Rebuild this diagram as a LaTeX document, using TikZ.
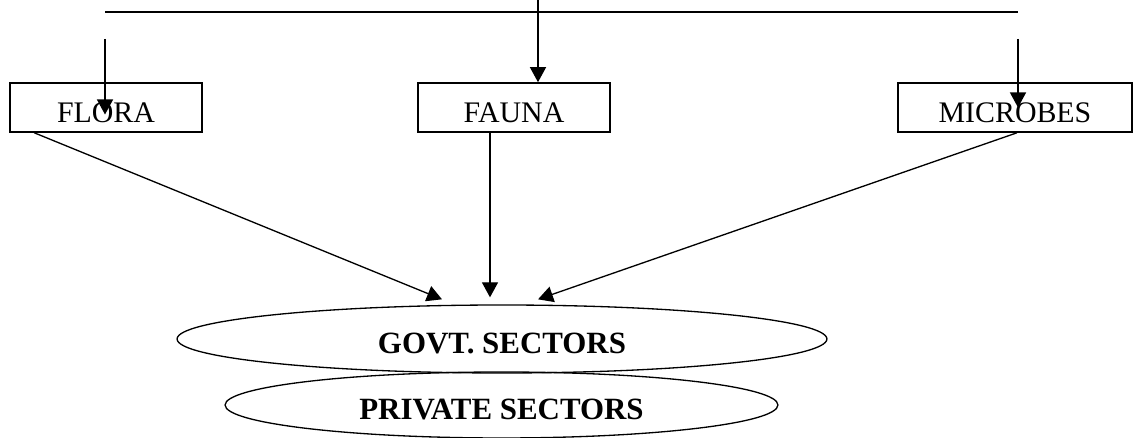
\documentclass[tikz,border=0pt]{standalone}
\usepackage{fontspec}
\setmainfont{Liberation Serif}
\usepackage{tikz}
\usetikzlibrary{arrows.meta,shapes.geometric,calc}

\tikzset{
  kind/.style={draw, line width=0.9pt, minimum width=3.84cm, minimum height=0.98cm, inner sep=0pt, font=\fontsize{17}{20}\selectfont, text height=0.6cm, text depth=0pt},
  sector/.style={draw, ellipse, line width=0.75pt, inner sep=0pt, font=\fontsize{17.6}{20}\selectfont\bfseries, text height=0.57cm, text depth=0pt},
  link/.style={-{Triangle[length=0.3cm,width=0.32cm]}, line width=0.75pt}
}

\begin{document}
\begin{tikzpicture}[x=0.02cm,y=0.02cm]
\useasboundingbox (0,0) rectangle (1133,438);
% top bar
\coordinate (barL) at (105,426);
\coordinate (barR) at (1018,426);
\coordinate (topM) at (538,438);
\coordinate (dropF) at (105,399);
\coordinate (dropM) at (1018,399);
\draw[line width=0.75pt] (barL) -- (barR);
% kinds
\node[kind] (flora) at (106,330.5) {FLORA};
\node[kind] (fauna) at (514,330.5) {FAUNA};
\node[kind, minimum width=4.68cm] (microbes) at (1015,330.5) {MICROBES};
% sectors
\node[sector, minimum width=13cm, minimum height=1.36cm] (govt) at (502,99) {GOVT. SECTORS};
\node[sector, minimum width=11.06cm, minimum height=1.32cm] (private) at (501.5,33) {PRIVATE SECTORS};
% arrows
\draw[link] (dropF) -- ($(dropF |- flora.center)+(0,-7)$);
\draw[link] (topM) -- (topM |- fauna.north);
\draw[link] (dropM) -- (dropM |- microbes.center);
\draw[link] ($(flora.south west)+(25,0)$) -- ($(govt.north)+(-60,5)$);
\draw[link] ($(fauna.south)+(-24,0)$) -- ($(govt.north)+(-12,7)$);
\draw[link] ($(microbes.south)+(2,0)$) -- ($(govt.north)+(36,5)$);
\end{tikzpicture}
\end{document}
